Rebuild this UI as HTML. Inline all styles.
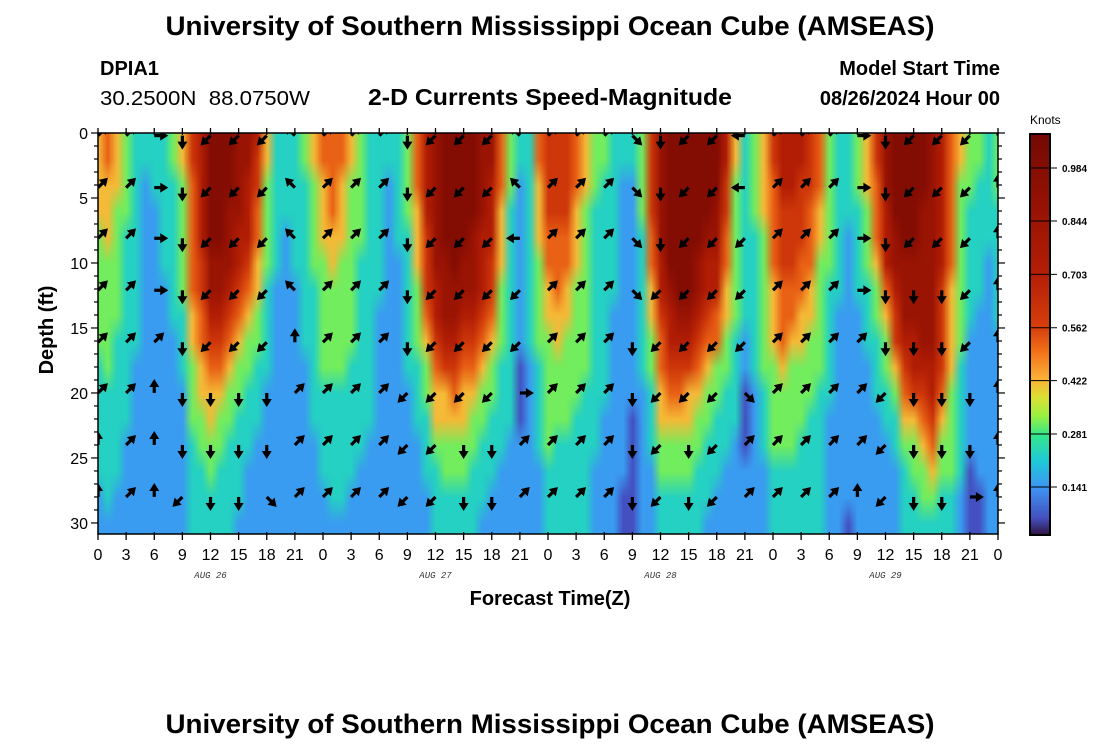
<!DOCTYPE html>
<html><head><meta charset="utf-8">
<style>
html,body{margin:0;padding:0;background:#fff;}
#wrap{position:relative;width:1100px;height:750px;overflow:hidden;font-family:"Liberation Sans",sans-serif;}
canvas,svg{position:absolute;left:0;top:0;}
</style></head>
<body>
<div id="wrap">
<canvas id="heat" width="1100" height="750"></canvas>
<svg id="svg" width="1100" height="750" xmlns="http://www.w3.org/2000/svg">
  <text x="550" y="35" text-anchor="middle" font-size="27" font-weight="bold" textLength="769" lengthAdjust="spacingAndGlyphs">University of Southern Mississippi Ocean Cube (AMSEAS)</text>
  <text x="100" y="75" font-size="20" font-weight="bold">DPIA1</text>
  <text x="100" y="105" font-size="20" textLength="210" lengthAdjust="spacingAndGlyphs">30.2500N&#160;&#160;88.0750W</text>
  <text x="550" y="105" text-anchor="middle" font-size="23" font-weight="bold" textLength="364" lengthAdjust="spacingAndGlyphs">2-D Currents Speed-Magnitude</text>
  <text x="1000" y="75" text-anchor="end" font-size="20" font-weight="bold">Model Start Time</text>
  <text x="1000" y="105" text-anchor="end" font-size="20" font-weight="bold">08/26/2024 Hour 00</text>
  <text x="1030" y="124" font-size="12">Knots</text>
  <text transform="translate(53,330) rotate(-90)" text-anchor="middle" font-size="20" font-weight="bold">Depth (ft)</text>
  <text x="550" y="605" text-anchor="middle" font-size="20" font-weight="bold">Forecast Time(Z)</text>
  <text x="550" y="733" text-anchor="middle" font-size="27" font-weight="bold" textLength="769" lengthAdjust="spacingAndGlyphs">University of Southern Mississippi Ocean Cube (AMSEAS)</text>
  <g id="gAxes"></g>
  <g id="gArrows" clip-path="url(#plotClip)"></g>
  <g id="gCbar"></g>
  <defs><clipPath id="plotClip"><rect x="98" y="133" width="900" height="401"/></clipPath></defs>
</svg>
</div>
<script>
// ---- data ----
// hours since start (0..96), one depth profile string per hour (depth 0,2,...,30 ft), digit = speed level
const hours = Array.from({length:97},(_,i)=>i);
const profileDepths = [0,2,4,6,8,10,12,14,16,18,20,22,24,26,28,30];
const levelValues = [0.06,0.15,0.23,0.31,0.42,0.52,0.60,0.72,0.86,1.00];
const speedProfiles = [
"4444333332222211","5544433333222221","4443333322222211","3333222222221111","2222222221111111",
"2211111111111111","2221111111111111","2222221111111111","3322222211111111","4433333222111111",
"6655555443332222","7777766554433222","9999988765443322","9999988765433222","9998887654332222",
"8888776543322221","8877765433222111","7665544332221111","4433332222111111","2222221111111111",
"2222111111111111","2222221111111111","3322222221111111","4433332222221111","5544433333222211",
"5555443333222221","5544433333222221","4433333332222211","3333322222222111","2222222222221111",
"2222222111111111","2211111111111111","2222211111111111","3333222222111111","5554443332221111",
"7777666543322211","8888887765443222","9999988876443322","9999998876543322","9999988765443322",
"9999888765433222","8888777654332221","8877766543322211","5554443332222111","3332222222221111",
"2211111110001111","2222222221111111","5544433332222111","6666554433333222","6666555443332222",
"6666554433332222","5554443333322222","4443333333222222","3332222222222111","3322222222211111",
"2222222111111111","2211111111111100","2211111111100000","3333222222111111","6666554433222111",
"8888877655443322","9999998776543322","9999999876543322","9999999876443322","9999988765433222",
"9999877654332221","9998877553322211","7766554433222111","4433333322221111","2222222211000111",
"3333222222111111","4444333333222111","6655554443333222","7776665554333222","7776665543333222",
"7766655443332222","6665554433322222","5554433333222222","3333332222211111","2222222111111111",
"2222111111111110","3332222111111111","4443332221111111","6655543322211111","8887775433221111",
"9999887664322111","9999988876543222","9999988877643322","9998888887654332","8888888887765432",
"7777776666543322","5555554444333322","4433333332222211","3332222211111000","3322222111111100",
"2222211111111111","3332222211111111"];
// current direction arrows: every 3 h, 8 depth rows
const arrowHours = [0,3,6,9,12,15,18,21,24,27,30,33,36,39,42,45,48,51,54,57,60,63,66,69,72,75,78,81,84,87,90,93,96];
const arrowDepths = [0.2,4.2,8.1,12.1,16.1,20.0,24.0,28.0];
const arrowDirs = [
"NE NE NE NE NE NE N N","NE NE NE NE NE NE NE NE","E E E E NE N N N","S S S S S S S SW",
"SW SW SW SW SW S S S","SW SW SW SW SW S S S","SW SW SW SW SW S S SE","NW NW NW NW N NE NE NE",
"NE NE NE NE NE NE NE NE","NE NE NE NE NE NE NE NE","NE NE NE NE NE NE NE NE","S S S S S SW SW SW",
"SW SW SW SW SW SW SW SW","SW SW SW SW SW SW S S","SW SW SW SW SW SW S S","NW NW W SW SW E NE NE",
"NE NE NE NE NE NE NE NE","NE NE NE NE NE NE NE NE","NE NE NE NE NE NE NE NE","SE SE SE SE S S S S",
"S S S SW SW SW SW SW","SW SW SW SW SW SW S S","SW SW SW SW SW SW SW SW","W W SW SW SW SE NE NE",
"NE NE NE NE NE NE NE NE","NE NE NE NE NE NE NE NE","NE NE NE NE NE NE NE NE","E E E E NE NE NE N",
"S S S S S SW SW SW","SW SW SW S S S S S","SW SW SW S S S S S","SW SW SW SW SW S S E",
"N N N N N N N N"];
const xTickHours = [0,3,6,9,12,15,18,21,24,27,30,33,36,39,42,45,48,51,54,57,60,63,66,69,72,75,78,81,84,87,90,93,96];
const xTickLabels = xTickHours.map(h=>String(h%24));
const dayLabels = ["AUG 26","AUG 27","AUG 28","AUG 29"];
const dayLabelHours = [12,36,60,84];
const yTicks = [0,5,10,15,20,25,30];
const cbarTicks = [0.141,0.281,0.422,0.562,0.703,0.844,0.984];

// ---- scales ----
const PX0=98, PX1=998, PY0=133, PY1=534, DMAX=30.85;
const xS = h => PX0 + h*(PX1-PX0)/96;
const yS = d => PY0 + d*(PY1-PY0)/DMAX;
const CB0=0.014, CB1=1.074, CBY0=134, CBY1=535;
const cbY = v => CBY1 - (v-CB0)/(CB1-CB0)*(CBY1-CBY0);

const stops=[[0.014,[48,18,59]],[0.06,[68,80,192]],[0.14,[62,149,245]],[0.21,[31,200,216]],[0.28,[53,232,138]],
[0.33,[154,240,64]],[0.38,[220,224,52]],[0.43,[251,176,56]],[0.49,[245,122,28]],[0.56,[216,64,12]],
[0.70,[181,31,5]],[0.85,[156,20,4]],[0.98,[135,14,3]],[1.074,[115,9,3]]];
function cmap(v){
  if(v<=stops[0][0]) return stops[0][1];
  for(let i=1;i<stops.length;i++){ if(v<=stops[i][0]){const a=stops[i-1],b=stops[i],t=(v-a[0])/(b[0]-a[0]);
    return a[1].map((c,k)=>Math.round(c+(b[1][k]-c)*t));}}
  return stops[stops.length-1][1];
}

// ---- heatmap ----
const cv=document.getElementById('heat'), ctx=cv.getContext('2d');
const sm=document.createElement('canvas'); sm.width=hours.length; sm.height=profileDepths.length;
const sctx=sm.getContext('2d'); const img=sctx.createImageData(sm.width,sm.height);
hours.forEach((h,i)=>{ const p=speedProfiles[i];
  profileDepths.forEach((d,j)=>{ const v=levelValues[+p[j]]; const c=cmap(v); const o=(j*sm.width+i)*4;
    img.data[o]=c[0];img.data[o+1]=c[1];img.data[o+2]=c[2];img.data[o+3]=255;});});
sctx.putImageData(img,0,0);
ctx.save(); ctx.beginPath(); ctx.rect(PX0,PY0,PX1-PX0,PY1-PY0); ctx.clip();
ctx.imageSmoothingEnabled=true;
const dx=xS(-0.5), dw=xS(96.5)-dx, dy=yS(-1), dh=yS(31)-dy;
ctx.drawImage(sm,dx,dy,dw,dh);
ctx.restore();
// colorbar
for(let y=CBY0;y<CBY1;y++){ const v=CB0+(CBY1-y)/(CBY1-CBY0)*(CB1-CB0); const c=cmap(v);
  ctx.fillStyle=`rgb(${c[0]},${c[1]},${c[2]})`; ctx.fillRect(1030,y,20,1); }

// ---- svg ----
const NS='http://www.w3.org/2000/svg';
function mk(tag,attrs,parent){const e=document.createElementNS(NS,tag);for(const k in attrs)e.setAttribute(k,attrs[k]);parent.appendChild(e);return e;}
const gA=document.getElementById('gAxes'), gR=document.getElementById('gArrows'), gC=document.getElementById('gCbar');
const frame=mk('rect',{x:PX0,y:PY0,width:PX1-PX0,height:PY1-PY0,fill:'none',stroke:'#000','stroke-width':1.5},gA);


xTickHours.forEach((h,i)=>{
  const x=xS(h);
  mk('line',{x1:x,y1:PY0-5,x2:x,y2:PY0+2,stroke:'#000','stroke-width':1.3},gA);
  mk('line',{x1:x,y1:PY1-2,x2:x,y2:PY1+6,stroke:'#000','stroke-width':1.3},gA);
  const t=mk('text',{x:x,y:560,'text-anchor':'middle','font-size':16},gA);
  t.textContent=xTickLabels[i];
  
  
});
dayLabels.forEach((s,i)=>{
  const t=mk('text',{x:xS(dayLabelHours[i]),y:578,'text-anchor':'middle','font-size':9,'font-style':'italic','font-family':'Liberation Mono, monospace',fill:'#333'},gA);
  t.textContent=s;
  
  
});
for(let d=0;d<=30;d++){
  const y=yS(d), L=(d%5===0)?7:4;
  mk('line',{x1:PX0-L,y1:y,x2:PX0,y2:y,stroke:'#000','stroke-width':1.2},gA);
  mk('line',{x1:PX1,y1:y,x2:PX1+L,y2:y,stroke:'#000','stroke-width':1.2},gA);
}
yTicks.forEach(d=>{
  const t=mk('text',{x:88,y:yS(d)+6,'text-anchor':'end','font-size':16},gA);
  t.textContent=String(d);
  
  
});
const ang={E:0,NE:-45,N:-90,NW:-135,W:180,SW:135,S:90,SE:45};
arrowHours.forEach((h,i)=>{
  const dirs=arrowDirs[i].split(' ');
  arrowDepths.forEach((d,j)=>{
    const g=mk('g',{transform:`translate(${xS(h)},${yS(d)}) rotate(${ang[dirs[j]]})`},gR);
    
    
    mk('line',{x1:0,y1:0,x2:8,y2:0,stroke:'#000','stroke-width':3.2},g);
    mk('polygon',{points:'6,-5 14,0 6,5',fill:'#000'},g);
  });
});
const cb=mk('rect',{x:1030,y:CBY0,width:20,height:CBY1-CBY0,fill:'none',stroke:'#000','stroke-width':2},gC);


cbarTicks.forEach(v=>{
  const y=cbY(v);
  mk('line',{x1:1030,y1:y,x2:1057,y2:y,stroke:'#000','stroke-width':1},gC);
  const t=mk('text',{x:1062,y:y+4,'font-size':10,'font-weight':'bold'},gC);
  t.textContent=v.toFixed(3);
  
  
});
</script>
</body></html>
